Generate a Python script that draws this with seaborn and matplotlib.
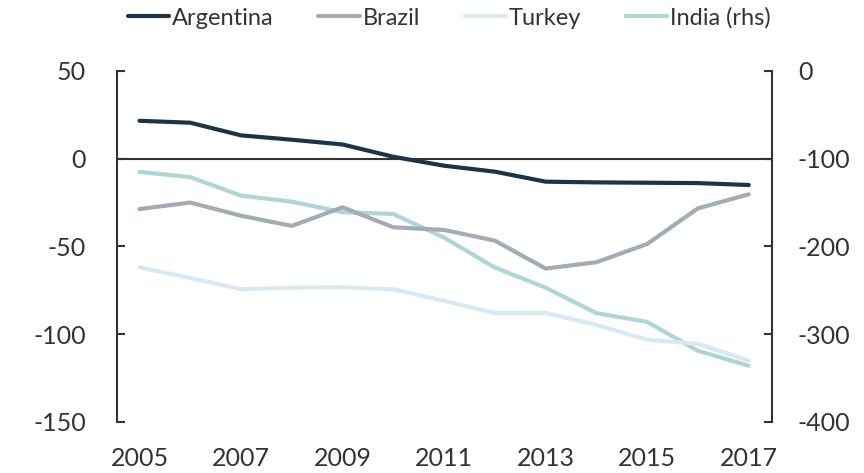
import matplotlib
matplotlib.use("Agg")
import matplotlib.pyplot as plt
import seaborn as sns
import pandas as pd
from matplotlib.lines import Line2D

years = list(range(2005, 2018))
argentina = [21.6, 20.5, 13.3, 10.8, 8.1, 1.1, -4.0, -7.4, -13.1, -13.5, -13.7, -13.9, -15.0]
brazil = [-28.7, -25.0, -32.5, -38.3, -27.7, -39.1, -40.6, -46.7, -62.6, -59.0, -48.6, -28.3, -20.3]
turkey = [-61.9, -68.0, -74.4, -73.5, -73.3, -74.4, -81.0, -87.9, -87.9, -94.7, -103.2, -105.5, -115.0]
india_rhs = [-115, -121, -142, -149, -161, -163, -190, -224, -247, -276, -286, -319, -336]

left_names = ["Argentina", "Brazil", "Turkey"]
colors = {"Argentina": "#1e3446", "Brazil": "#a2acb6", "Turkey": "#d7e9f5", "India (rhs)": "#afd5d4"}
left_ticks = [-150, -100, -50, 0, 50]
right_ticks = [-400, -300, -200, -100, 0]
x_ticks = [2005, 2007, 2009, 2011, 2013, 2015, 2017]

df = pd.DataFrame({
    "year": years * 3,
    "value": argentina + brazil + turkey,
    "country": [n for n in left_names for _ in years],
})
df_india = pd.DataFrame({"year": years, "value": india_rhs})

sns.set_style("white")
plt.rcParams["font.family"] = ["Lato", "DejaVu Sans"]
plt.rcParams["axes.unicode_minus"] = False

fig = plt.figure(figsize=(8.64, 4.73), dpi=100)
ax = fig.add_axes([0.135, 0.108, 0.758, 0.742])
ax2 = ax.twinx()

lw = 3.0
sns.lineplot(data=df_india, x="year", y="value", ax=ax2, color=colors["India (rhs)"],
             lw=lw, legend=False)
sns.lineplot(data=df, x="year", y="value", hue="country", hue_order=left_names,
             palette=colors, ax=ax, lw=lw, legend=False)

ax.set_zorder(ax2.get_zorder() + 1)
ax.patch.set_visible(False)

ax.axhline(0, color="#333333", lw=1.5, zorder=0)

ax.set_xlim(2004.55, 2017.45)
ax.set_ylim(-150, 50)
ax2.set_ylim(-400, 0)
ax.set_yticks(left_ticks)
ax2.set_yticks(right_ticks)
ax.set_xticks(x_ticks)
ax.set_xlabel("")
ax.set_ylabel("")
ax2.set_ylabel("")

spine_c = "#333333"
for a in (ax, ax2):
    for s in a.spines.values():
        s.set_visible(False)
ax.spines["left"].set_visible(True)
ax.spines["left"].set_color(spine_c)
ax.spines["left"].set_linewidth(1.5)
ax2.spines["right"].set_visible(True)
ax2.spines["right"].set_color(spine_c)
ax2.spines["right"].set_linewidth(1.5)

ax.tick_params(axis="y", direction="in", length=6, width=1.5, color=spine_c,
               labelsize=18, labelcolor="#333333", pad=22, left=True)
ax2.tick_params(axis="y", direction="in", length=6, width=1.5, color=spine_c,
                labelsize=18, labelcolor="#333333", pad=19, right=True)
ax.tick_params(axis="x", length=0, labelsize=18, labelcolor="#333333", pad=18)

handles = [Line2D([0], [0], color=colors[n], lw=lw) for n in left_names + ["India (rhs)"]]
fig.legend(handles, left_names + ["India (rhs)"], loc="center", bbox_to_anchor=(0.52, 0.962),
           ncol=4, frameon=False, fontsize=17, handlelength=1.75, handletextpad=0.12,
           columnspacing=1.9, labelcolor="#333333")

fig.savefig("out.png", dpi=100)
